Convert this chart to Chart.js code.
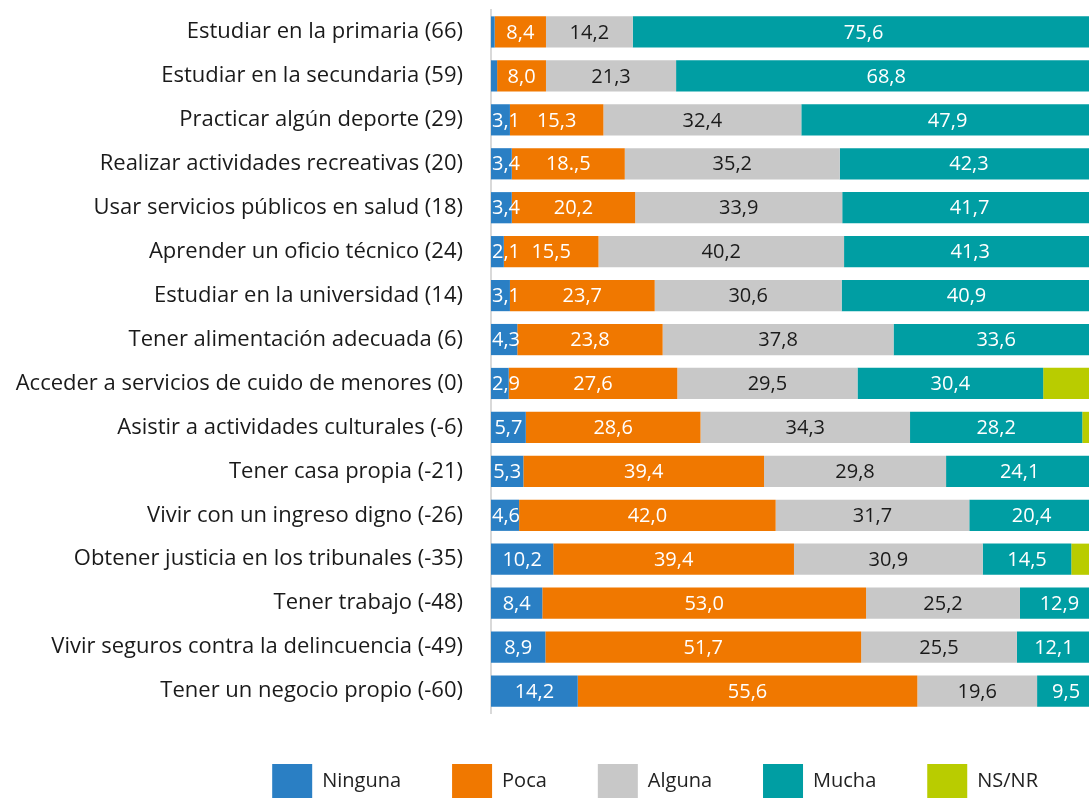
<!DOCTYPE html>
<html>
<head>
<meta charset="utf-8">
<script src="https://cdn.jsdelivr.net/npm/chart.js@4/dist/chart.umd.min.js"></script>
<style>
  html, body { margin: 0; padding: 0; background: #fff; overflow: hidden; }
  #wrap { width: 1089px; height: 798px; overflow: hidden; }
</style>
</head>
<body>
<div id="wrap"><canvas id="chart" width="1089" height="808"></canvas></div>
<script>
const categories = [
  "Estudiar en la primaria (66)",
  "Estudiar en la secundaria (59)",
  "Practicar algún deporte (29)",
  "Realizar actividades recreativas (20)",
  "Usar servicios públicos en salud (18)",
  "Aprender un oficio técnico (24)",
  "Estudiar en la universidad (14)",
  "Tener alimentación adecuada (6)",
  "Acceder a servicios de cuido de menores (0)",
  "Asistir a actividades culturales (-6)",
  "Tener casa propia (-21)",
  "Vivir con un ingreso digno (-26)",
  "Obtener justicia en los tribunales (-35)",
  "Tener trabajo (-48)",
  "Vivir seguros contra la delincuencia (-49)",
  "Tener un negocio propio (-60)"
]

const ninguna = [0.6, 1.0, 3.1, 3.4, 3.4, 2.1, 3.1, 4.3, 2.9, 5.7, 5.3, 4.6, 10.2, 8.4, 8.9, 14.2]
const poca = [8.4, 8.0, 15.3, 18.5, 20.2, 15.5, 23.7, 23.8, 27.6, 28.6, 39.4, 42.0, 39.4, 53.0, 51.7, 55.6]
const alguna = [14.2, 21.3, 32.4, 35.2, 33.9, 40.2, 30.6, 37.8, 29.5, 34.3, 29.8, 31.7, 30.9, 25.2, 25.5, 19.6]
const mucha = [75.6, 68.8, 47.9, 42.3, 41.7, 41.3, 40.9, 33.6, 30.4, 28.2, 24.1, 20.4, 14.5, 12.9, 12.1, 9.5]
const nsnr = [1.2, 0.9, 1.3, 0.6, 0.8, 0.9, 1.7, 0.5, 9.6, 3.2, 1.4, 1.3, 5.0, 0.5, 1.8, 1.1]

// the source prints this one label with a typo
const labelOverrides = { "Poca:3": "18.,5" }

const FONT = "'Open Sans', 'Noto Sans', sans-serif"

// value labels in the middle of each segment (no datalabels plugin offline)
const segmentLabels = {
  id: "segmentLabels",
  afterDatasetsDraw(chart) {
    const ctx = chart.ctx
    ctx.save()
    ctx.font = "20px " + FONT
    ctx.textAlign = "center"
    ctx.textBaseline = "middle"
    chart.data.datasets.forEach((ds, di) => {
      if (!ds.showLabels) return
      const meta = chart.getDatasetMeta(di)
      meta.data.forEach((bar, i) => {
        const v = ds.data[i]
        if (v < 1.5) return
        const key = ds.label + ":" + i
        const text = labelOverrides[key] || v.toFixed(1).replace(".", ",")
        const w = ctx.measureText(text).width
        // small segments: keep the text from running left of the bar start
        const x = Math.max((bar.base + bar.x) / 2, bar.base + w / 2 + 1)
        ctx.fillStyle = ds.labelColor
        ctx.fillText(text, x, bar.y + 1)
      })
    })
    ctx.restore()
  }
}

const ctx = document.getElementById("chart").getContext("2d")
new Chart(ctx, {
  type: "bar",
  data: {
    labels: categories,
    datasets: [
      { label: "Ninguna", data: ninguna, backgroundColor: "#2a7fc4", labelColor: "#ffffff", showLabels: true },
      { label: "Poca", data: poca, backgroundColor: "#f07800", labelColor: "#ffffff", showLabels: true },
      { label: "Alguna", data: alguna, backgroundColor: "#c8c8c8", labelColor: "#1a1a1a", showLabels: true },
      { label: "Mucha", data: mucha, backgroundColor: "#009ea3", labelColor: "#ffffff", showLabels: true },
      { label: "NS/NR", data: nsnr, backgroundColor: "#b9cc00", showLabels: false }
    ]
  },
  options: {
    indexAxis: "y",
    responsive: false,
    animation: false,
    layout: { padding: { top: 10, right: 0, bottom: 0, left: 0 } },
    datasets: {
      bar: { categoryPercentage: 1, barPercentage: 0.71, borderWidth: 0 }
    },
    scales: {
      x: {
        stacked: true,
        display: false,
        min: 0,
        max: 97.9
      },
      y: {
        stacked: true,
        grid: { display: false, drawTicks: false },
        border: { display: true, color: "#d9d9d9", width: 2 },
        ticks: {
          padding: 28,
          color: "#1a1a1a",
          font: { family: FONT, size: 22 }
        },
        afterFit(scale) {
          scale.width = 491
          scale.paddingTop = 0
          scale.paddingBottom = 0
        }
      }
    },
    plugins: {
      tooltip: { enabled: false },
      legend: {
        position: "bottom",
        align: "end",
        labels: {
          boxWidth: 40,
          boxHeight: 34,
          padding: 51,
          color: "#222222",
          font: { family: FONT, size: 20 }
        }
      }
    }
  },
  plugins: [segmentLabels]
})
</script>
</body>
</html>
